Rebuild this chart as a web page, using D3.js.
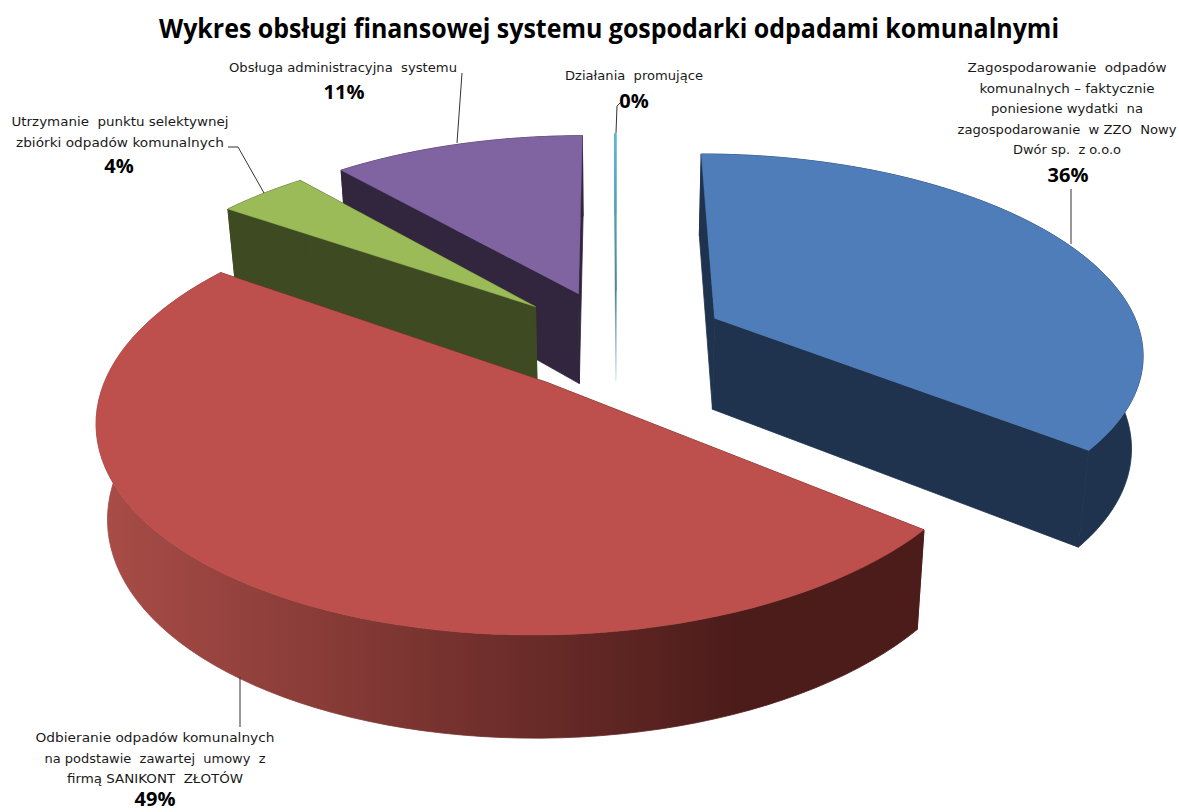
<!DOCTYPE html>
<html>
<head>
<meta charset="utf-8">
<script src="https://cdn.jsdelivr.net/npm/d3@7"></script>
<style>
  html, body { margin: 0; background: #fff; }
  text { fill: #1a1a1a; }
</style>
</head>
<body>
<div id="chart"></div>
<script>
// Data
var categories = [
  "Zagospodarowanie odpadów komunalnych",
  "Odbieranie odpadów komunalnych",
  "Utrzymanie punktu selektywnej zbiórki",
  "Obsługa administracyjna systemu",
  "Działania promujące"
];
var shares = [35.8, 48.9, 4, 11.3, 0.05];
var shownPercent = ["36%", "49%", "4%", "11%", "0%"];
var labelLines = [
  ["Zagospodarowanie  odpadów", "komunalnych – faktycznie", "poniesione wydatki  na", "zagospodarowanie  w ZZO  Nowy", "Dwór sp.  z o.o.o"],
  ["Odbieranie odpadów komunalnych", "na podstawie  zawartej  umowy  z", "firmą SANIKONT  ZŁOTÓW"],
  ["Utrzymanie  punktu selektywnej", "zbiórki odpadów komunalnych"],
  ["Obsługa administracyjna  systemu"],
  ["Działania  promujące"]
];
var topColors = ["#4f7dba", "#bd4f4c", "#9bbb59", "#8063a1", "#4bacc6"];
var sideColors = ["#1f334f", "#5a2422", "#3e4a22", "#32263f", "#4bacc6"];
var drawOrder = [4, 3, 2, 0, 1];

// label layout, same order as categories
var labelX = [1067, 155, 120, 343, 634];
var labelY = [72, 742, 126, 72, 80];
var lineGap = 20.6;
var lineWidths = [[199, 175, 152, 219, 108], [239, 221, 176], [217, 208], [228], [138]];
var percentX = [1068, 155, 119, 344, 634];
var percentY = [182, 806, 173, 99, 108];
var leaders = [
  [[1071, 189], [1071, 244]],
  [[240, 677], [240, 727]],
  [[228, 147], [238, 147], [264, 193]],
  [[462, 73], [457, 143]],
  [[616, 133], [617, 106], [620, 103]]
];

var w = 1179;
var h = 812;

// projection of the tilted pie
var cx = 616;
var cy = 340;
var radiusX = 428;
var radiusY = 197;
var perspective = 0.16;
var explode = 0.26;
var depth = 92;

var svg = d3.select("#chart")
  .append("svg")
    .attr("width", w)
    .attr("height", h);

var defs = svg.append("defs");

var redGrad = defs.append("linearGradient")
    .attr("id", "redSide")
    .attr("gradientUnits", "userSpaceOnUse")
    .attr("x1", 105).attr("x2", 735).attr("y1", 0).attr("y2", 0);
redGrad.append("stop").attr("offset", 0).attr("stop-color", "#a84c47");
redGrad.append("stop").attr("offset", 1).attr("stop-color", "#4c1c1a");

var cyanGrad = defs.append("linearGradient")
    .attr("id", "cyanFade")
    .attr("gradientUnits", "userSpaceOnUse")
    .attr("x1", 0).attr("x2", 0).attr("y1", 133).attr("y2", 378);
cyanGrad.append("stop").attr("offset", 0).attr("stop-color", "#5db9d0");
cyanGrad.append("stop").attr("offset", 0.65).attr("stop-color", "#4a8494");
cyanGrad.append("stop").attr("offset", 1).attr("stop-color", "#dfeaee");

var pie = d3.pie().sort(null).value(function(d) { return d; });
var arcs = pie(shares);

function project(x, y, z) {
  var k = 1 - perspective * y;
  var sx = cx + radiusX * x / k;
  var sy = cy + radiusY * y / k;
  return [
    cx + (sx - cx) * (1 - 0.022 * z),
    sy + z * depth * (1 + 0.1 * y)
  ];
}

// point of a slice in disc coordinates, y grows toward the viewer
function slicePoint(d, angle, r, z) {
  var mid = (d.startAngle + d.endAngle) / 2;
  var x = explode * Math.sin(mid) + r * Math.sin(angle);
  var y = -(explode * Math.cos(mid) + r * Math.cos(angle));
  return project(x, y, z);
}

function rimPoints(d, z) {
  var angle = d3.scaleLinear().domain([0, 80]).range([d.startAngle, d.endAngle]);
  return d3.range(81).map(function(i) { return slicePoint(d, angle(i), 1, z); });
}

var line = d3.line();

function sideFill(i) {
  if (i == 1) return "url(#redSide)";
  if (i == 4) return "url(#cyanFade)";
  return sideColors[i];
}

drawOrder.forEach(function(i) {
  var d = arcs[i];
  var g = svg.append("g").attr("class", "slice");

  // radial walls
  [d.startAngle, d.endAngle].forEach(function(a) {
    var wall = [
      slicePoint(d, a, 0, 0), slicePoint(d, a, 1, 0),
      slicePoint(d, a, 1, 1), slicePoint(d, a, 0, 1)
    ];
    g.append("path")
      .attr("d", line(wall) + "Z")
      .attr("fill", i == 1 ? sideColors[1] : sideFill(i))
      .attr("stroke", i == 1 ? sideColors[1] : sideFill(i))
      .attr("stroke-width", 0.8);
  });

  // outer wall
  var outer = rimPoints(d, 0).concat(rimPoints(d, 1).reverse());
  g.append("path")
    .attr("d", line(outer) + "Z")
    .attr("fill", sideFill(i))
    .attr("stroke", sideFill(i))
    .attr("stroke-width", 0.8);

  // top face
  var top = [slicePoint(d, d.startAngle, 0, 0)].concat(rimPoints(d, 0));
  g.append("path")
    .attr("d", line(top) + "Z")
    .attr("fill", i == 4 ? "url(#cyanFade)" : topColors[i])
    .attr("stroke", i == 4 ? "url(#cyanFade)" : topColors[i])
    .attr("stroke-width", i == 4 ? 1 : 0.4);
});

// leader lines
leaders.forEach(function(pts) {
  svg.append("path")
    .attr("d", line(pts))
    .attr("fill", "none")
    .attr("stroke", "#333")
    .attr("stroke-width", 1);
});

// title
svg.append("text")
  .attr("x", 609)
  .attr("y", 38)
  .attr("text-anchor", "middle")
  .attr("font-family", "'Open Sans', sans-serif")
  .attr("font-weight", 700)
  .attr("font-size", 26)
  .attr("textLength", 900)
  .attr("lengthAdjust", "spacingAndGlyphs")
  .style("fill", "#000")
  .text("Wykres obsługi finansowej systemu gospodarki odpadami komunalnymi");

// data labels
categories.forEach(function(name, i) {
  var label = svg.append("g").attr("class", "label").attr("data-name", name);
  labelLines[i].forEach(function(txt, j) {
    label.append("text")
      .attr("x", labelX[i])
      .attr("y", labelY[i] + j * lineGap)
      .attr("text-anchor", "middle")
      .attr("font-family", "'DejaVu Sans', sans-serif")
      .attr("font-size", 12)
      .attr("textLength", lineWidths[i][j])
      .attr("lengthAdjust", "spacingAndGlyphs")
      .style("white-space", "pre")
      .text(txt);
  });
  label.append("text")
    .attr("x", percentX[i])
    .attr("y", percentY[i])
    .attr("text-anchor", "middle")
    .attr("font-family", "'Open Sans', sans-serif")
    .attr("font-weight", 700)
    .attr("font-size", 20)
    .style("fill", "#000")
    .text(shownPercent[i]);
});
</script>
</body>
</html>
